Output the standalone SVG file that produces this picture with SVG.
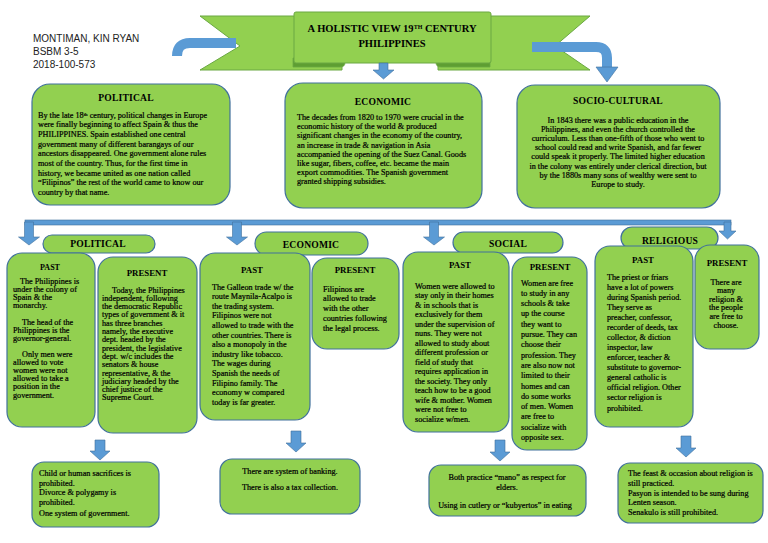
<svg xmlns="http://www.w3.org/2000/svg" width="768" height="543" viewBox="0 0 768 543">
<defs>
<style>
.box{fill:#92d050;stroke:#41719c;stroke-width:1.2}
.blue{fill:#5b9bd5;stroke:#41719c;stroke-width:0.6}
.band{fill:none;stroke:#5b9bd5;stroke-width:10}
.t{font-family:"Liberation Serif","Times New Roman",serif;font-size:8.2px;fill:#000;stroke:#000;stroke-width:0.22}
.c{text-anchor:middle}
.h{font-family:"Liberation Serif","Times New Roman",serif;font-size:9.6px;font-weight:bold;fill:#000;text-anchor:middle;letter-spacing:0.2px}
.p{font-family:"Liberation Serif","Times New Roman",serif;font-size:8.8px;font-weight:bold;fill:#000;text-anchor:middle}
.name{font-family:"Liberation Sans",Arial,sans-serif;font-size:10px;fill:#222}
</style>
</defs>
<rect width="768" height="543" fill="#ffffff"/>

<g id="author">
<text class="name" x="33" y="42">MONTIMAN, KIN RYAN</text>
<text class="name" x="33" y="55">BSBM 3-5</text>
<text class="name" x="33" y="68">2018-100-573</text>
</g>

<g id="title">
<polygon points="200,16 342,16 342,70 200,70 240,46" fill="#92d050" stroke="#6aa843" stroke-width="1"/>
<polygon points="590,16 438,16 438,70 590,70 555,46" fill="#92d050" stroke="#6aa843" stroke-width="1"/>
<path d="M293,58 L340,58 Q345,58 345,62.5 Q345,67 340,67 L293,67 Z" fill="#5e9e32" stroke="#6aa843" stroke-width="0.8"/>
<path d="M490,58 L441,58 Q436,58 436,62.5 Q436,67 441,67 L490,67 Z" fill="#5e9e32" stroke="#6aa843" stroke-width="0.8"/>
<rect x="294" y="12" width="197" height="51" rx="2" fill="#92d050" stroke="#6aa843" stroke-width="1"/>
<text class="h" x="392" y="32" style="font-size:10.5px;letter-spacing:0">A HOLISTIC VIEW 19<tspan font-size="6" baseline-shift="super">TH</tspan> CENTURY</text>
<text class="h" x="392" y="47" style="font-size:10.5px;letter-spacing:0">PHILIPPINES</text>
</g>

<g id="connectors">
<path class="band" d="M236,43 L190,43 Q177,43 177,56"/>
<path class="band" d="M532,47 L596,47 Q607,47 607,58 L607,68"/>
<polygon class="blue" points="596,67 618,67 607,82"/>
<polygon class="blue" points="379,63 388,63 388,70 394,70 383.5,79 373,70 379,70"/>
<rect class="blue" x="25" y="220" width="706" height="5"/>
<polygon class="blue" points="24.5,222 33.5,222 33.5,237 39.5,237 29,245 18.5,237 24.5,237"/>
<polygon class="blue" points="232.5,222 241.5,222 241.5,237 247.5,237 237,245 226.5,237 232.5,237"/>
<polygon class="blue" points="429.5,222 438.5,222 438.5,237 444.5,237 434,245 423.5,237 429.5,237"/>
<polygon class="blue" points="724,222 731,222 731,231 736,231 727.5,239 719,231 724,231"/>
<polygon class="blue" points="95,440 105,440 105,451 110,451 100,460 90,451 95,451"/>
<polygon class="blue" points="291,431 301,431 301,443 306,443 296,452 286,443 291,443"/>
<polygon class="blue" points="495,440 505,440 505,452 510,452 500,461 490,452 495,452"/>
<polygon class="blue" points="681,436 691,436 691,448 696,448 686,457 676,448 681,448"/>
</g>

<g id="political-top">
<rect class="box" x="32" y="84" width="198" height="121" rx="18"/>
<text class="h" x="126" y="100.5">POLITICAL</text>
<text class="t" x="38" y="117.5">By the late 18<tspan font-size="5" baseline-shift="super">th</tspan> century, political changes in Europe</text>
<text class="t" x="38" y="127.2">were finally beginning to affect Spain &amp; thus the</text>
<text class="t" x="38" y="136.8">PHILIPPINES. Spain established one central</text>
<text class="t" x="38" y="146.5">government many of different barangays of our</text>
<text class="t" x="38" y="156.2">ancestors disappeared. One government alone rules</text>
<text class="t" x="38" y="165.8">most of the country. Thus, for the first time in</text>
<text class="t" x="38" y="175.5">history, we became united as one nation called</text>
<text class="t" x="38" y="185.2">“Filipinos” the rest of the world came to know our</text>
<text class="t" x="38" y="194.8">country by that name.</text>
</g>

<g id="economic-top">
<rect class="box" x="285" y="83" width="197" height="125" rx="18"/>
<text class="h" x="383" y="105">ECONOMIC</text>
<text class="t" x="297" y="120">The decades from 1820 to 1970 were crucial in the</text>
<text class="t" x="297" y="129.2">economic history of the world &amp; produced</text>
<text class="t" x="297" y="138.4">significant changes in the economy of the country,</text>
<text class="t" x="297" y="147.6">an increase in trade &amp; navigation in Asia</text>
<text class="t" x="297" y="156.8">accompanied the opening of the Suez Canal. Goods</text>
<text class="t" x="297" y="166">like sugar, fibers, coffee, etc. became the main</text>
<text class="t" x="297" y="175.2">export commodities. The Spanish government</text>
<text class="t" x="297" y="184.4">granted shipping subsidies.</text>
</g>

<g id="socio-cultural-top">
<rect class="box" x="517" y="85" width="203" height="123" rx="18"/>
<text class="h" x="618" y="104">SOCIO-CULTURAL</text>
<text class="t c" x="618" y="122.5">In 1843 there was a public education in the</text>
<text class="t c" x="618" y="131.7">Philippines, and even the church controlled the</text>
<text class="t c" x="618" y="140.9">curriculum. Less than one-fifth of those who went to</text>
<text class="t c" x="618" y="150.1">school could read and write Spanish, and far fewer</text>
<text class="t c" x="618" y="159.3">could speak it properly. The limited higher education</text>
<text class="t c" x="618" y="168.5">in the colony was entirely under clerical direction, but</text>
<text class="t c" x="618" y="177.7">by the 1880s many sons of wealthy were sent to</text>
<text class="t c" x="618" y="186.9">Europe to study.</text>
</g>

<g id="political-label">
<rect class="box" x="43" y="235" width="112" height="18" rx="9"/>
<text class="h" x="98" y="247">POLITICAL</text>
</g>
<g id="economic-label">
<rect class="box" x="255" y="232" width="113" height="23" rx="11.5"/>
<text class="h" x="311" y="247.5">ECONOMIC</text>
</g>
<g id="social-label">
<rect class="box" x="453" y="232" width="110" height="21" rx="10.5"/>
<text class="h" x="508" y="246.5">SOCIAL</text>
</g>
<g id="religious-label">
<rect class="box" x="621" y="227" width="97" height="22" rx="11"/>
<text class="h" x="670" y="244">RELIGIOUS</text>
</g>

<g id="political-past">
<rect class="box" x="7" y="253" width="88" height="174" rx="15"/>
<text class="p" x="50" y="270" style="font-size:8px">PAST</text>
<text class="t" x="20" y="283.5">The Philippines is</text>
<text class="t" x="13" y="291.5">under the colony of</text>
<text class="t" x="13" y="299.5">Spain &amp; the</text>
<text class="t" x="13" y="307.5">monarchy.</text>
<text class="t" x="22" y="324.5">The head of the</text>
<text class="t" x="13" y="332.5">Philippines is the</text>
<text class="t" x="13" y="340.5">governor-general.</text>
<text class="t" x="22" y="356.5">Only men were</text>
<text class="t" x="13" y="364.5">allowed to vote</text>
<text class="t" x="13" y="372.5">women were not</text>
<text class="t" x="13" y="380.5">allowed to take a</text>
<text class="t" x="13" y="389">position in the</text>
<text class="t" x="13" y="397.5">government.</text>
</g>

<g id="political-present">
<rect class="box" x="98" y="257" width="99" height="176" rx="15"/>
<text class="p" x="147" y="276">PRESENT</text>
<text class="t" x="112" y="292.5">Today, the Philippines</text>
<text class="t" x="102" y="300.8">independent, following</text>
<text class="t" x="102" y="309.1">the democratic Republic</text>
<text class="t" x="102" y="317.4">types of government &amp; it</text>
<text class="t" x="102" y="325.7">has three branches</text>
<text class="t" x="102" y="334">namely, the executive</text>
<text class="t" x="102" y="342.3">dept. headed by the</text>
<text class="t" x="102" y="350.6">president, the legislative</text>
<text class="t" x="102" y="358.9">dept. w/c includes the</text>
<text class="t" x="102" y="367.2">senators &amp; house</text>
<text class="t" x="102" y="375.5">representative, &amp; the</text>
<text class="t" x="102" y="383.8">judiciary headed by the</text>
<text class="t" x="102" y="392.1">chief justice of the</text>
<text class="t" x="102" y="400.4">Supreme Court.</text>
</g>

<g id="economic-past">
<rect class="box" x="200" y="253" width="110" height="167" rx="15"/>
<text class="p" x="252" y="273">PAST</text>
<text class="t" x="212" y="289.5">The Galleon trade w/ the</text>
<text class="t" x="212" y="299.1">route Maynila-Acalpo is</text>
<text class="t" x="212" y="308.7">the trading system.</text>
<text class="t" x="212" y="318.3">Filipinos were not</text>
<text class="t" x="212" y="327.9">allowed to trade with the</text>
<text class="t" x="212" y="337.5">other countries. There is</text>
<text class="t" x="212" y="347.1">also a monopoly in the</text>
<text class="t" x="212" y="356.7">industry like tobacco.</text>
<text class="t" x="212" y="366.3">The wages during</text>
<text class="t" x="212" y="375.9">Spanish the needs of</text>
<text class="t" x="212" y="385.5">Filipino family. The</text>
<text class="t" x="212" y="395.1">economy w compared</text>
<text class="t" x="212" y="404.7">today is far greater.</text>
</g>

<g id="economic-present">
<rect class="box" x="312" y="258" width="87" height="91" rx="15"/>
<text class="p" x="355" y="273">PRESENT</text>
<text class="t" x="323" y="291.5">Filipinos are</text>
<text class="t" x="323" y="301.3">allowed to trade</text>
<text class="t" x="323" y="311.1">with the other</text>
<text class="t" x="323" y="320.9">countries following</text>
<text class="t" x="323" y="330.7">the legal process.</text>
</g>

<g id="social-past">
<rect class="box" x="403" y="252" width="106" height="180" rx="15"/>
<text class="p" x="460" y="268">PAST</text>
<text class="t" x="415" y="288.5">Women were allowed to</text>
<text class="t" x="415" y="298">stay only in their homes</text>
<text class="t" x="415" y="307.5">&amp; in schools that is</text>
<text class="t" x="415" y="317">exclusively for them</text>
<text class="t" x="415" y="326.5">under the supervision of</text>
<text class="t" x="415" y="336">nuns. They were not</text>
<text class="t" x="415" y="345.5">allowed to study about</text>
<text class="t" x="415" y="355">different profession or</text>
<text class="t" x="415" y="364.5">field of study that</text>
<text class="t" x="415" y="374">requires application in</text>
<text class="t" x="415" y="383.5">the society. They only</text>
<text class="t" x="415" y="393">teach how to be a good</text>
<text class="t" x="415" y="402.5">wife &amp; mother. Women</text>
<text class="t" x="415" y="412">were not free to</text>
<text class="t" x="415" y="421.5">socialize w/men.</text>
</g>

<g id="social-present">
<rect class="box" x="512" y="257" width="75" height="193" rx="15"/>
<text class="p" x="550" y="270">PRESENT</text>
<text class="t" x="521" y="285.5">Women are free</text>
<text class="t" x="521" y="295.8">to study in any</text>
<text class="t" x="521" y="306.1">schools &amp; take</text>
<text class="t" x="521" y="316.4">up the course</text>
<text class="t" x="521" y="326.7">they want to</text>
<text class="t" x="521" y="337">pursue. They can</text>
<text class="t" x="521" y="347.3">choose their</text>
<text class="t" x="521" y="357.6">profession. They</text>
<text class="t" x="521" y="367.9">are also now not</text>
<text class="t" x="521" y="378.2">limited to their</text>
<text class="t" x="521" y="388.5">homes and can</text>
<text class="t" x="521" y="398.8">do some works</text>
<text class="t" x="521" y="409.1">of men. Women</text>
<text class="t" x="521" y="419.4">are free to</text>
<text class="t" x="521" y="429.7">socialize with</text>
<text class="t" x="521" y="440">opposite sex.</text>
</g>

<g id="religious-past">
<rect class="box" x="595" y="246" width="98" height="181" rx="15"/>
<text class="p" x="643" y="263">PAST</text>
<text class="t" x="607" y="279.5">The priest or friars</text>
<text class="t" x="607" y="289.5">have a lot of powers</text>
<text class="t" x="607" y="299.5">during Spanish period.</text>
<text class="t" x="607" y="309.5">They serve as</text>
<text class="t" x="607" y="319.5">preacher, confessor,</text>
<text class="t" x="607" y="329.5">recorder of deeds, tax</text>
<text class="t" x="607" y="339.5">collector, &amp; diction</text>
<text class="t" x="607" y="349.5">inspector, law</text>
<text class="t" x="607" y="359.5">enforcer, teacher &amp;</text>
<text class="t" x="607" y="369.5">substitute to governor-</text>
<text class="t" x="607" y="379.5">general catholic is</text>
<text class="t" x="607" y="389.5">official religion. Other</text>
<text class="t" x="607" y="399.5">sector religion is</text>
<text class="t" x="607" y="410.5">prohibited.</text>
</g>

<g id="religious-present">
<rect class="box" x="695" y="245" width="64" height="104" rx="15"/>
<text class="p" x="727" y="266">PRESENT</text>
<text class="t c" x="726" y="284.5">There are</text>
<text class="t c" x="726" y="293.1">many</text>
<text class="t c" x="726" y="301.7">religion &amp;</text>
<text class="t c" x="726" y="310.3">the people</text>
<text class="t c" x="726" y="318.9">are free to</text>
<text class="t c" x="726" y="327.5">choose.</text>
</g>

<g id="political-now">
<rect class="box" x="32" y="462" width="127" height="65" rx="12"/>
<text class="t" x="39" y="475.5">Child or human sacrifices is</text>
<text class="t" x="39" y="485.5">prohibited.</text>
<text class="t" x="39" y="494.5">Divorce &amp; polygamy is</text>
<text class="t" x="39" y="504.5">prohibited.</text>
<text class="t" x="39" y="515.5">One system of government.</text>
</g>

<g id="economic-now">
<rect class="box" x="220" y="459" width="140" height="55" rx="12"/>
<text class="t c" x="290" y="473.5">There are system of banking.</text>
<text class="t c" x="290" y="489.5">There is also a tax collection.</text>
</g>

<g id="social-now">
<rect class="box" x="429" y="465" width="157" height="51" rx="12"/>
<text class="t c" x="507" y="479.5">Both practice “mano” as respect for</text>
<text class="t c" x="507" y="489.5">elders.</text>
<text class="t c" x="505" y="507.5">Using in cutlery or “kubyertos” in eating</text>
</g>

<g id="religious-now">
<rect class="box" x="618" y="463" width="145" height="60" rx="12"/>
<text class="t" x="628" y="475.5">The feast &amp; occasion about religion is</text>
<text class="t" x="628" y="485.5">still practiced.</text>
<text class="t" x="628" y="495.5">Pasyon is intended to be sung during</text>
<text class="t" x="628" y="504.5">Lenten season.</text>
<text class="t" x="628" y="514.5">Senakulo is still prohibited.</text>
</g>
</svg>
